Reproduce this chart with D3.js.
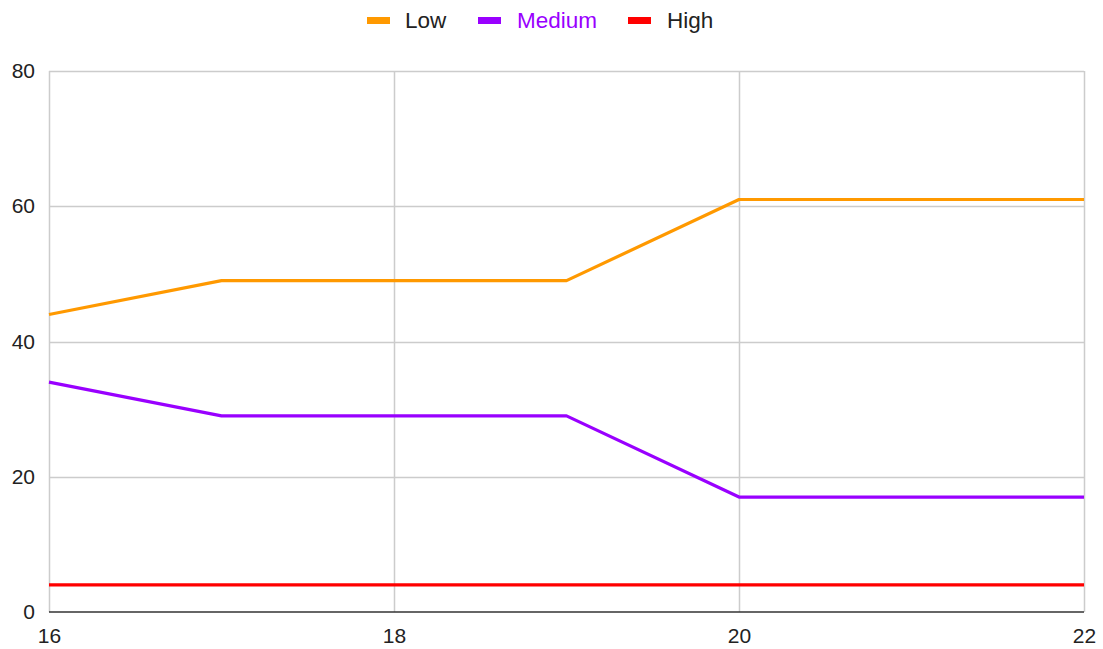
<!DOCTYPE html>
<html>
<head>
<meta charset="utf-8">
<script src="https://cdn.jsdelivr.net/npm/d3@7"></script>
<style>
  html, body { margin: 0; padding: 0; background: #fff; }
  svg { display: block; font-family: "Liberation Sans", Arial, sans-serif; }
</style>
</head>
<body>
<svg id="chart" width="1103" height="649"></svg>
<script>
// Data
const xValues = [16, 17, 18, 19, 20, 21, 22];
const lowValues = [44, 49, 49, 49, 61, 61, 61];
const mediumValues = [34, 29, 29, 29, 17, 17, 17];
const highValues = [4, 4, 4, 4, 4, 4, 4];
const seriesNames = ["Low", "Medium", "High"];
const seriesColors = ["#ff9900", "#9900ff", "#ff0000"];
const legendTextColors = ["#222222", "#9900ff", "#222222"];
const xTicks = [16, 18, 20, 22];
const yTicks = [0, 20, 40, 60, 80];

const series = [lowValues, mediumValues, highValues].map((vals, i) => ({
  name: seriesNames[i],
  color: seriesColors[i],
  points: xValues.map((x, j) => ({ x, y: vals[j] }))
}));

const svg = d3.select("#chart");
const margin = { left: 49, right: 19, top: 71, bottom: 37 };
const W = 1103, H = 649;

const x = d3.scaleLinear().domain([16, 22]).range([margin.left, W - margin.right]);
const y = d3.scaleLinear().domain([0, 80]).range([H - margin.bottom, margin.top]);

// Grid
const grid = svg.append("g");
grid.selectAll(".hg").data(yTicks.filter(d => d > 0)).join("line")
  .attr("x1", x(16)).attr("x2", x(22))
  .attr("y1", d => Math.round(y(d)) + 0.5).attr("y2", d => Math.round(y(d)) + 0.5)
  .attr("stroke", "#cccccc").attr("stroke-width", 1.5);
grid.selectAll(".vg").data(xTicks).join("line")
  .attr("x1", d => Math.round(x(d)) + 0.5).attr("x2", d => Math.round(x(d)) + 0.5)
  .attr("y1", y(80)).attr("y2", y(0))
  .attr("stroke", "#cccccc").attr("stroke-width", 1.5);

// Y axis labels
const yAxis = d3.axisLeft(y).tickValues(yTicks).tickFormat(d3.format("d")).tickSize(0).tickPadding(14);
svg.append("g").attr("transform", `translate(${margin.left},0)`).call(yAxis)
  .call(g => g.select(".domain").remove())
  .call(g => g.selectAll("text").attr("font-size", 21).attr("fill", "#222").attr("font-family", "Liberation Sans, Arial, sans-serif"));

// X axis labels
const xAxis = d3.axisBottom(x).tickValues(xTicks).tickFormat(d3.format("d")).tickSize(0).tickPadding(16);
svg.append("g").attr("transform", `translate(0,${y(0)})`).call(xAxis)
  .call(g => g.select(".domain").remove())
  .call(g => g.selectAll("text").attr("font-size", 21).attr("fill", "#222").attr("font-family", "Liberation Sans, Arial, sans-serif"));

// Baseline
svg.append("line")
  .attr("x1", x(16)).attr("x2", x(22))
  .attr("y1", y(0)).attr("y2", y(0))
  .attr("stroke", "#333333").attr("stroke-width", 1.5);

// Lines
const line = d3.line().x(d => x(d.x)).y(d => y(d.y));
svg.append("g").selectAll("path").data(series).join("path")
  .attr("d", d => line(d.points))
  .attr("fill", "none")
  .attr("stroke", d => d.color)
  .attr("stroke-width", 3.2)
  .attr("stroke-linejoin", "round");

// Legend
const legendItems = [
  { swatchX: 367, textX: 405 },
  { swatchX: 478, textX: 517 },
  { swatchX: 628, textX: 667 }
];
const legend = svg.append("g");
legendItems.forEach((p, i) => {
  legend.append("rect")
    .attr("x", p.swatchX).attr("y", 17).attr("width", 23).attr("height", 7)
    .attr("fill", seriesColors[i]);
  legend.append("text")
    .attr("x", p.textX).attr("y", 28)
    .attr("font-size", 22.5)
    .attr("fill", legendTextColors[i])
    .text(seriesNames[i]);
});
</script>
</body>
</html>
